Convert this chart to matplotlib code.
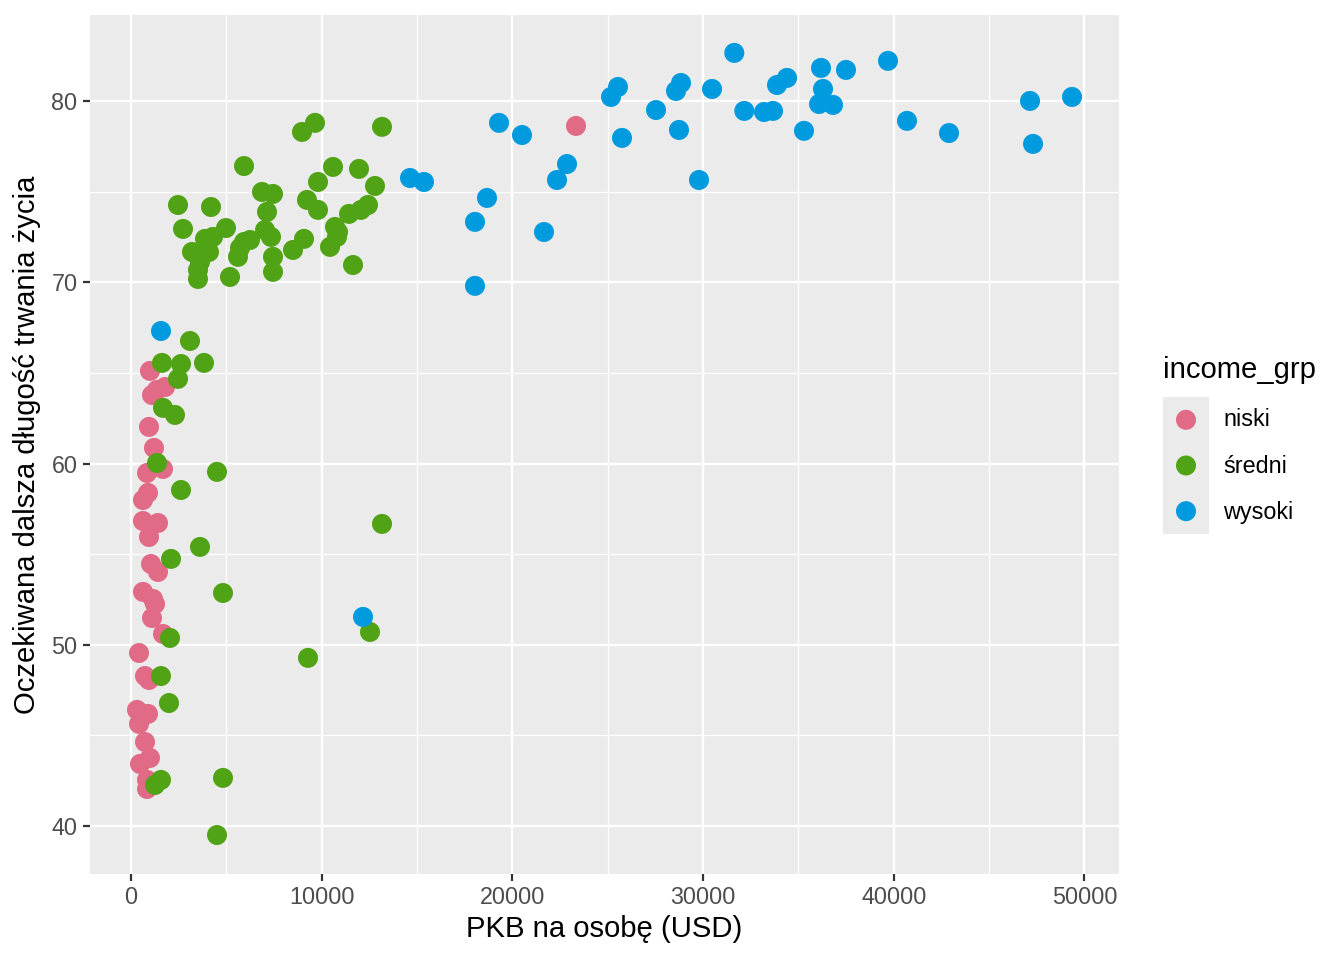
import matplotlib
matplotlib.use("Agg")
import matplotlib.pyplot as plt
from matplotlib.ticker import MultipleLocator

plt.rcParams['font.family'] = ['Liberation Sans', 'DejaVu Sans']

# niski
low_gdp = [996, 1363, 1783, 1101, 944, 1206, 839, 1678, 891, 629, 629, 1416, 944,
           1049, 1416, 629, 1154, 1259, 1101, 1678, 420, 734, 944, 315, 891, 420,
           734, 996, 472, 839, 839, 23336]
low_life = [65.11, 64.06, 64.22, 63.78, 62.02, 60.86, 59.48, 59.70, 58.38, 57.99, 56.83, 56.72, 55.95,
            54.46, 54.02, 52.92, 52.53, 52.25, 51.48, 50.60, 49.55, 48.28, 48.06, 46.41, 46.19, 45.64,
            44.64, 43.76, 43.43, 42.55, 42.05, 78.62]

# średni
mid_gdp = [3094, 1626, 2622, 3828, 2465, 1678, 2307, 1363, 4510, 2622, 3618, 2098,
           4824, 2045, 1573, 1993, 4824, 1573, 1259, 4510, 9282, 12533, 13162,
           5926, 2465, 4195, 2727, 4982, 4300, 3881, 3199, 4090, 3618, 3513, 3513,
           5192, 5611, 5716, 6240, 5926, 6870, 7446, 7132, 7027, 7342, 7446, 7446,
           8495, 9072, 8967, 9649, 9806, 9229, 9806, 10593, 11956, 12795, 12428,
           12061, 11432, 10698, 10855, 10803, 10436, 11642, 13162]
mid_life = [66.76, 65.55, 65.49, 65.55, 64.67, 63.07, 62.68, 60.03, 59.54, 58.54, 55.40, 54.74,
            52.86, 50.38, 48.28, 46.79, 42.66, 42.55, 42.27, 39.51, 49.28, 50.71, 56.67,
            76.41, 74.26, 74.15, 72.94, 72.99, 72.50, 72.39, 71.67, 71.67, 71.12, 70.68, 70.18,
            70.29, 71.40, 71.89, 72.33, 72.22, 74.98, 74.87, 73.88, 72.88, 72.50, 71.40, 70.57,
            71.78, 72.39, 78.29, 78.79, 75.53, 74.54, 73.99, 76.36, 76.25, 75.31, 74.26,
            73.99, 73.77, 73.05, 72.77, 72.50, 71.95, 70.95, 78.57]

# wysoki
high_gdp = [1573, 12166, 19298, 20504, 14631, 15365, 18669, 18039, 18039, 21658, 22339,
            22864, 25171, 25538, 25748, 27531, 28580, 28842, 28737, 29786, 30468, 31636,
            32161, 33195, 33666, 33876, 34401, 35292, 36184, 36289, 36079, 36813, 37494,
            39697, 40693, 42896, 47144, 47302, 49346]
high_life = [67.31, 51.54, 78.79, 78.12, 75.75, 75.53, 74.65, 73.33, 69.80, 72.77, 75.64,
             76.52, 80.22, 80.77, 77.96, 79.50, 80.55, 80.99, 78.40, 75.64, 80.66, 82.65,
             79.45, 79.39, 79.45, 80.88, 81.27, 78.35, 81.82, 80.66, 79.83, 79.78, 81.71,
             82.21, 78.90, 78.23, 80.00, 77.63, 80.22]

groups = ["niski", "średni", "wysoki"]
colors = ["#E16A86", "#50A315", "#009ADE"]
series = [(low_gdp, low_life), (mid_gdp, mid_life), (high_gdp, high_life)]

W, H = 1344, 960
fig = plt.figure(figsize=(W / 144, H / 144), dpi=144)
ax = fig.add_axes([90 / W, 1 - 874 / H, (1119 - 90) / W, (874 - 15) / H])
ax.set_facecolor("#EBEBEB")

for (gx, gy), c in zip(series, colors):
    ax.scatter(gx, gy, s=100, color=c, edgecolors="none", zorder=3)

ax.set_xlim(-2150, 51810)
ax.set_ylim(37.36, 84.74)
ax.xaxis.set_major_locator(MultipleLocator(10000))
ax.xaxis.set_minor_locator(MultipleLocator(5000))
ax.yaxis.set_major_locator(MultipleLocator(10))
ax.yaxis.set_minor_locator(MultipleLocator(5))
ax.grid(which="major", color="white", linewidth=1.2, zorder=0)
ax.grid(which="minor", color="white", linewidth=0.6, zorder=0)
ax.set_axisbelow(True)
for sp in ax.spines.values():
    sp.set_visible(False)
ax.tick_params(which="major", length=3.7, width=1.1, color="#333333",
               labelsize=11.7, labelcolor="#4D4D4D", pad=2.5)
ax.tick_params(which="minor", length=0)

ax.set_xlabel("PKB na osobę (USD)", fontsize=14.6, color="black", labelpad=3)
ax.set_ylabel("Oczekiwana dalsza długość trwania życia", fontsize=14.6, color="black", labelpad=5)

# legend
fig.text(1163 / W, 1 - 370 / H, "income_grp", fontsize=14.6, va="center", ha="left")
lax = fig.add_axes([1163 / W, 1 - 534 / H, 46 / W, 137 / H])
lax.set_facecolor("#EBEBEB")
lax.set_xlim(0, 1)
lax.set_ylim(-0.5, 2.5)
lax.set_xticks([])
lax.set_yticks([])
for sp in lax.spines.values():
    sp.set_visible(False)
for i, (g, c) in enumerate(zip(groups, colors)):
    yk = 2 - i
    lax.scatter([0.5], [yk], s=100, color=c, edgecolors="none")
    fig.text(1223 / W, 1 - (420 + 46.5 * i) / H, g, fontsize=11.7, va="center", ha="left")

fig.savefig("out.png", dpi=144)
